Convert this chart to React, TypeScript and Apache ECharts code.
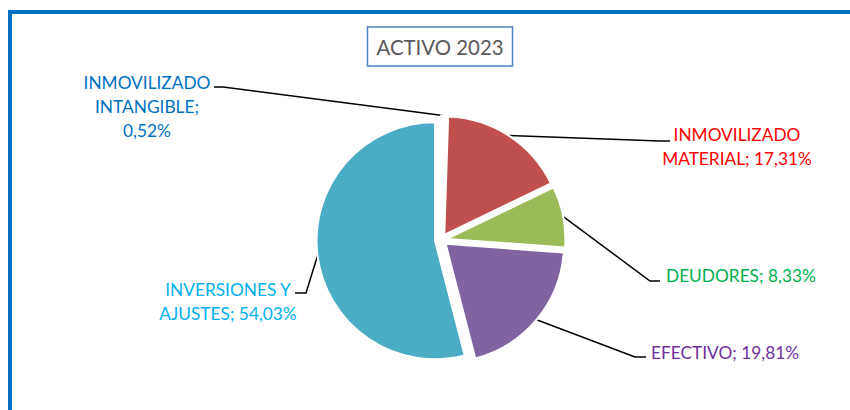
import React, { useEffect, useRef } from "react";
import * as echarts from "echarts";

const titleText = "ACTIVO 2023";
const categories = [
  "INMOVILIZADO INTANGIBLE",
  "INMOVILIZADO MATERIAL",
  "DEUDORES",
  "EFECTIVO",
  "INVERSIONES Y AJUSTES",
];
const values = [0.52, 17.31, 8.33, 19.81, 54.03];
const labelNames = [
  "INMOVILIZADO\nINTANGIBLE;\n",
  "INMOVILIZADO\nMATERIAL; ",
  "DEUDORES; ",
  "EFECTIVO; ",
  "INVERSIONES Y\nAJUSTES; ",
];
const sliceColors = ["#FFFFFF", "#C0504D", "#9BBB59", "#8064A2", "#4BACC6"];
const labelColors = ["#0070C0", "#FF0000", "#00B050", "#7030A0", "#00B0F0"];

const FONT = "Lato, 'Noto Sans', sans-serif";
const OFFSET = 6;

// label placement (layout only)
const labelPlaces = [
  { x: 147, y: 106, align: "center", p1: [223, 87], p2: [214, 87] },
  { x: 737, y: 146, align: "center", p1: [660, 141], p2: [670, 141] },
  { x: 666, y: 275, align: "left", p1: [650, 281], p2: [660, 281] },
  { x: 651, y: 352, align: "left", p1: [635, 357], p2: [646, 357] },
  { x: 228, y: 301, align: "center", p1: [306, 293], p2: [295, 293] },
];

const fmt = (v: number) => v.toFixed(2).replace(".", ",") + "%";

export default function App() {
  const ref = useRef<HTMLDivElement>(null);
  useEffect(() => {
    if (!ref.current) return;
    const chart = echarts.init(ref.current, null, { renderer: "svg" });
    const total = values.reduce((a, b) => a + b, 0);
    // slice mid angles (clockwise from top) -> selected offset shift of each slice
    let cum = 0;
    const shifts = values.map((v) => {
      const mid = ((cum + v / 2) / total) * Math.PI * 2;
      cum += v;
      return [OFFSET * Math.sin(mid), -OFFSET * Math.cos(mid)];
    });
    const data = categories.map((name, i) => ({
      name,
      value: values[i],
      selected: true,
      itemStyle: { color: sliceColors[i] },
    }));
    const labelTexts = labelPlaces.map((L, i) => ({
      type: "text",
      silent: true,
      x: L.x,
      y: L.y,
      style: {
        text: labelNames[i] + fmt(values[i]),
        fill: labelColors[i],
        fontFamily: FONT,
        fontSize: 17.3,
        lineHeight: 24,
        align: L.align,
        verticalAlign: "middle",
      },
    }));
    chart.setOption({
      animation: false,
      backgroundColor: "#ffffff",
      title: {
        text: titleText,
        left: 367,
        top: 27,
        padding: [8, 9, 7, 9.5],
        borderColor: "#4F81BD",
        borderWidth: 1.5,
        textStyle: {
          fontFamily: FONT,
          fontSize: 20.4,
          fontWeight: "normal",
          color: "#595959",
          lineHeight: 24,
        },
      },
      graphic: [
        {
          type: "rect",
          silent: true,
          z: -1,
          shape: { x: 10, y: 12, width: 860, height: 430 },
          style: { fill: "none", stroke: "#0070C0", lineWidth: 4 },
        },
        ...labelTexts,
      ],
      series: [
        {
          type: "pie",
          center: [441, 240],
          radius: 118.5,
          startAngle: 90,
          clockwise: true,
          selectedMode: "multiple",
          selectedOffset: OFFSET,
          avoidLabelOverlap: false,
          emphasis: { disabled: true },
          itemStyle: { borderColor: "#ffffff", borderWidth: 2 },
          label: {
            show: true,
            position: "outside",
            fontSize: 1,
            color: "rgba(0,0,0,0)",
            formatter: () => " ",
          },
          labelLine: {
            show: true,
            length: 20,
            length2: 10,
            lineStyle: { color: "#000000", width: 1.5 },
          },
          labelLayout: (p: any) => {
            const L = labelPlaces[p.dataIndex];
            const s = shifts[p.dataIndex];
            const p0 = p.labelLinePoints ? p.labelLinePoints[0] : null;
            if (!p0) return {};
            return {
              labelLinePoints: [
                p0,
                [L.p1[0] - s[0], L.p1[1] - s[1]],
                [L.p2[0] - s[0], L.p2[1] - s[1]],
              ],
            };
          },
          data,
        },
      ],
    });
    return () => chart.dispose();
  }, []);
  return (
    <div
      ref={ref}
      style={{ position: "absolute", left: 0, top: 0, width: 850, height: 410 }}
    />
  );
}
